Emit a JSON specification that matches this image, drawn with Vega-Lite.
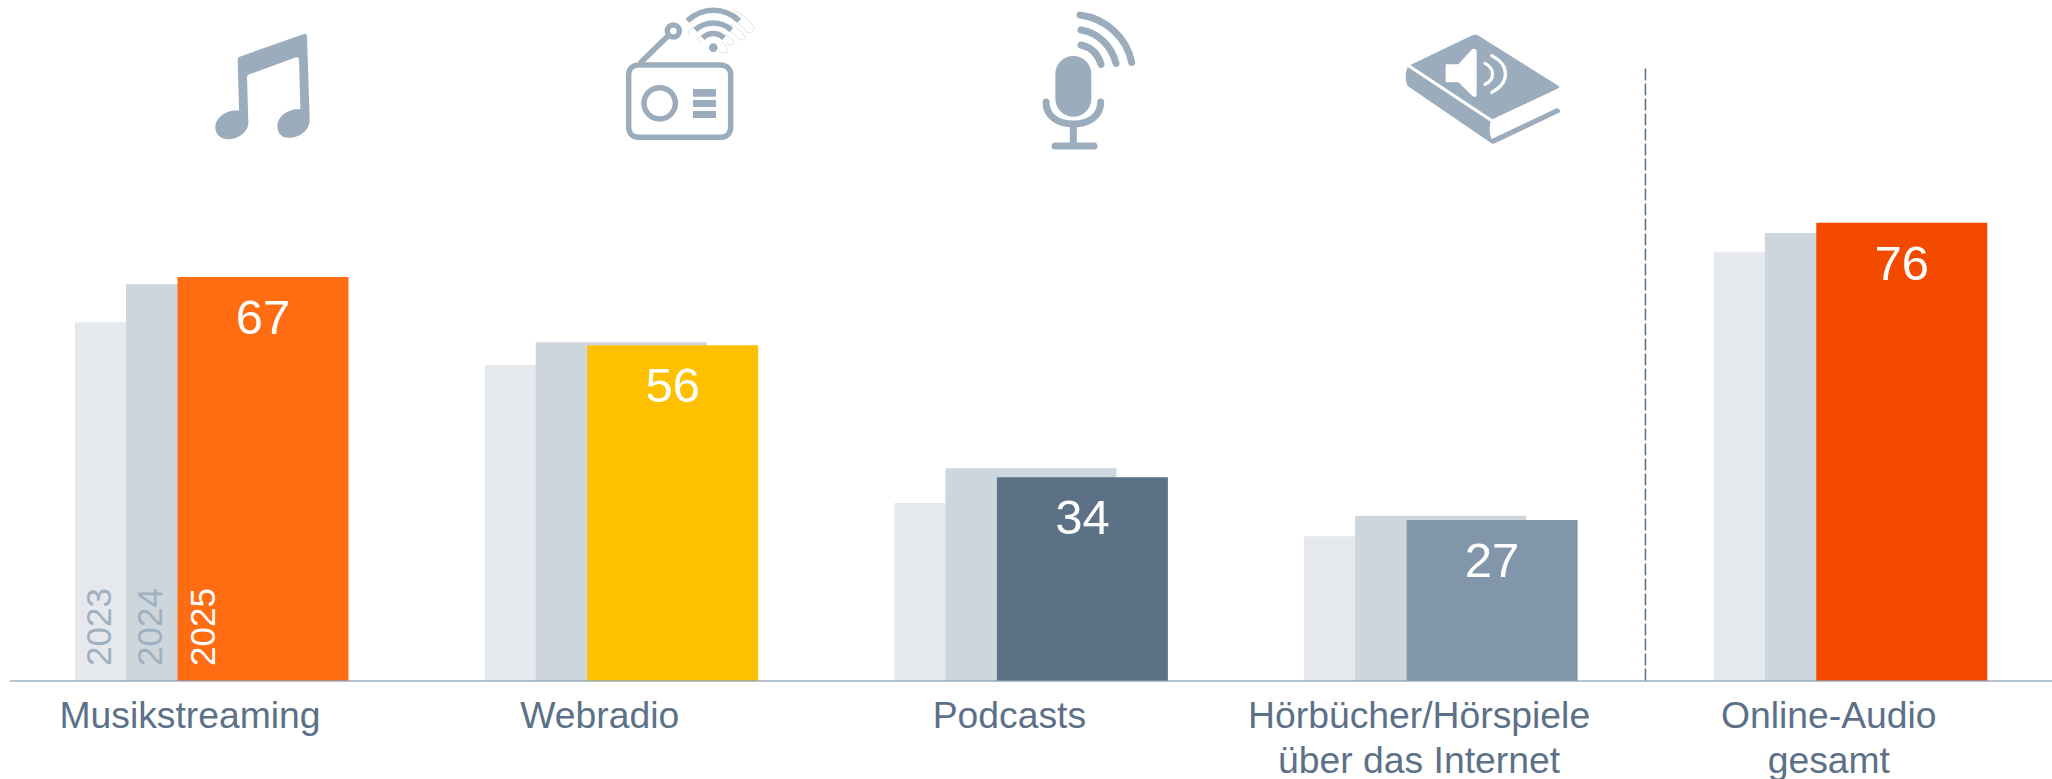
{
"$schema":"https://vega.github.io/schema/vega-lite/v6.json",
"autosize":"none","width":2042,"height":681,
"padding":{"left":10,"top":0,"right":0,"bottom":98},
"background":"white",
"config":{"view":{"stroke":null}},
"data":{"values":[
{"category":"Musikstreaming","year":2023,"value":59.5},
{"category":"Musikstreaming","year":2024,"value":65.8},
{"category":"Musikstreaming","year":2025,"value":67.0},
{"category":"Webradio","year":2023,"value":52.4},
{"category":"Webradio","year":2024,"value":56.2},
{"category":"Webradio","year":2025,"value":55.7},
{"category":"Podcasts","year":2023,"value":29.5},
{"category":"Podcasts","year":2024,"value":35.3},
{"category":"Podcasts","year":2025,"value":33.8},
{"category":"Hörbücher/Hörspiele über das Internet","year":2023,"value":24.0},
{"category":"Hörbücher/Hörspiele über das Internet","year":2024,"value":27.4},
{"category":"Hörbücher/Hörspiele über das Internet","year":2025,"value":26.7},
{"category":"Online-Audio gesamt","year":2023,"value":71.1},
{"category":"Online-Audio gesamt","year":2024,"value":74.3},
{"category":"Online-Audio gesamt","year":2025,"value":76.0}
]},
"encoding":{
"x":{"field":"category","type":"nominal","title":null,
"scale":{"domain":["Musikstreaming","Webradio","Podcasts","Hörbücher/Hörspiele über das Internet","Online-Audio gesamt"],"range":[-3.35,2045.15],"paddingInner":0,"paddingOuter":0},
"axis":{"domain":false,"ticks":false,"tickSize":0,"grid":false,"labelAngle":0,"labelOffset":-21.5,"labelPadding":46,"labelBaseline":"alphabetic","labelAlign":"center","labelFont":"Liberation Sans","labelFontSize":37.3,"labelColor":"#5c7188","labelLineHeight":45,"labelOverlap":false,"labelFlush":false,"labelBound":false,"labelLimit":0,
"labelExpr":"datum.value=='Hörbücher/Hörspiele über das Internet' ? ['Hörbücher/Hörspiele','über das Internet'] : datum.value=='Online-Audio gesamt' ? ['Online-Audio','gesamt'] : datum.value"}},
"y":{"field":"value","type":"quantitative","title":null,"axis":null,"scale":{"domain":[0,112.94],"nice":false,"zero":true}}
},
"layer":[
{"transform":[{"filter":"datum.year==2023"}],"mark":{"type":"bar","width":171,"xOffset":-51,"color":"#e5e9ee"}},
{"transform":[{"filter":"datum.year==2024"}],"mark":{"type":"bar","width":171,"color":"#cdd5dd"}},
{"transform":[{"filter":"datum.year==2025"}],"mark":{"type":"bar","width":171,"xOffset":51.5},
"encoding":{"color":{"field":"category","type":"nominal","legend":null,"scale":{"domain":["Musikstreaming","Webradio","Podcasts","Hörbücher/Hörspiele über das Internet","Online-Audio gesamt"],"range":["#ff6c11","#ffc000","#5c7186","#8196aa","#f34a00"]}}}},
{"transform":[{"filter":"datum.year==2025 && datum.category=='Musikstreaming'"}],"mark":{"type":"rule","stroke":"#8b9fb3","strokeWidth":1.5,"opacity":0.85},"encoding":{"x":null,"y":{"datum":0,"axis":null}}},
{"transform":[{"filter":"datum.year==2025 && datum.category=='Online-Audio gesamt'"}],"mark":{"type":"rule","stroke":"#5f7489","strokeWidth":1.6,"strokeDash":[12,3]},
"encoding":{"x":{"field":"category","type":"nominal","bandPosition":0},"y":{"datum":101.6,"axis":null},"y2":{"datum":0}}},
{"transform":[{"filter":"datum.year==2025"}],"mark":{"type":"text","color":"white","font":"Liberation Sans","fontSize":49,"baseline":"alphabetic","align":"center","dy":57,"xOffset":51.5},"encoding":{"text":{"field":"value","type":"quantitative","format":".0f"}}},
{"transform":[{"filter":"datum.category=='Musikstreaming' && datum.year==2023"}],"mark":{"type":"text","angle":270,"align":"left","baseline":"middle","font":"Liberation Sans","fontSize":35,"color":"#9fb0c1","xOffset":-111.5},"encoding":{"text":{"field":"year","type":"nominal"},"y":{"datum":2.5,"axis":null}}},
{"transform":[{"filter":"datum.category=='Musikstreaming' && datum.year==2024"}],"mark":{"type":"text","angle":270,"align":"left","baseline":"middle","font":"Liberation Sans","fontSize":35,"color":"#9fb0c1","xOffset":-60.5},"encoding":{"text":{"field":"year","type":"nominal"},"y":{"datum":2.5,"axis":null}}},
{"transform":[{"filter":"datum.category=='Musikstreaming' && datum.year==2025"}],"mark":{"type":"text","angle":270,"align":"left","baseline":"middle","font":"Liberation Sans","fontSize":35,"color":"white","xOffset":-8},"encoding":{"text":{"field":"year","type":"nominal"},"y":{"datum":2.5,"axis":null}}},

{"transform":[{"filter":"datum.year==2025 && datum.category=='Musikstreaming'"}],"mark":{"type":"point","filled":true,"opacity":1,"fill":"#9badbd","strokeWidth":0,"size":0.44444,"xOffset":-11.5,"yOffset":20,
"shape":"M113 118 Q113 112 119 110 L312 42 Q320 40 321 48 L329 295 C331 330 300 353 265 353 C245 353 232 340 232 318 C232 290 265 264 301 268 L297 118 Q296 110 288 112 L148 163 Q141 166 141 172 L145 305 C147 335 115 358 85 358 C60 358 46 342 46 322 C46 292 80 268 117 272 Z"},"encoding":{"y":{"datum":112.94,"axis":null}}},

{"transform":[{"filter":"datum.year==2025 && datum.category=='Webradio'"}],"mark":{"type":"point","filled":false,"opacity":1,"stroke":"#dfe4e9","strokeWidth":1,"size":0.44444,"xOffset":-6.2,"yOffset":0,
"shape":"M350 30 C385 40 405 62 418 85 C418 97 405 102 395 95 C380 75 365 65 350 58 M345 72 C365 82 380 95 392 110 C390 120 378 122 368 115 C358 102 345 95 335 90 M330 102 C345 110 352 120 358 128 C352 138 345 135 335 130 M318 125 C332 130 338 145 335 158 C330 160 320 158 312 155 M240 80 C225 85 215 95 225 105 M262 105 C245 112 245 125 262 128"},"encoding":{"y":{"datum":112.94,"axis":null}}},
{"transform":[{"filter":"datum.year==2025 && datum.category=='Webradio'"}],"mark":{"type":"point","filled":false,"opacity":1,"stroke":"#9badbd","strokeWidth":5.5,"size":0.44444,"xOffset":-6.2,"yOffset":0,
"shape":"M71 195 L317 195 C335 195 347 207 347 225 L347 382 C347 400 335 412 317 412 L71 412 C53 412 41 400 41 382 L41 225 C41 207 53 195 71 195 Z M87 310 C87 284 108 263 134 263 C160 263 181 284 181 310 C181 336 160 357 134 357 C108 357 87 336 87 310 Z M157 93 C157 83 165 75 175 75 C185 75 193 83 193 93 C193 103 185 111 175 111 C165 111 157 103 157 93 Z M75 190 L161 106 M217 62 C262 20 328 20 373 62 M241 90 C272 62 318 62 349 90 M263 114 C282 96 308 96 327 114"},"encoding":{"y":{"datum":112.94,"axis":null}}},
{"transform":[{"filter":"datum.year==2025 && datum.category=='Webradio'"}],"mark":{"type":"point","filled":true,"opacity":1,"fill":"#9badbd","strokeWidth":0,"size":0.44444,"xOffset":-6.2,"yOffset":0,
"shape":"M234 267 L303 267 L303 290 L234 290 Z M234 300 L303 300 L303 321 L234 321 Z M234 333 L303 333 L303 354 L234 354 Z M282 143 C282 136 288 130 295 130 C302 130 308 136 308 143 C308 150 302 156 295 156 C288 156 282 150 282 143 Z"},"encoding":{"y":{"datum":112.94,"axis":null}}},

{"transform":[{"filter":"datum.year==2025 && datum.category=='Podcasts'"}],"mark":{"type":"point","filled":true,"opacity":1,"fill":"#9badbd","strokeWidth":0,"size":0.44444,"xOffset":-0.9,"yOffset":0,
"shape":"M76 222 C76 192 100 168 130 168 C160 168 184 192 184 222 L184 296 C184 326 160 350 130 350 C100 350 76 326 76 296 Z"},"encoding":{"y":{"datum":112.94,"axis":null}}},
{"transform":[{"filter":"datum.year==2025 && datum.category=='Podcasts'"}],"mark":{"type":"point","filled":false,"opacity":1,"stroke":"#9badbd","strokeWidth":7,"strokeCap":"round","size":0.44444,"xOffset":-0.9,"yOffset":0,
"shape":"M48 306 C48 350 85 372 130 372 C175 372 212 350 212 306 M130 372 L130 436 M75 438 L192 438 M150 45 C225 55 290 110 305 187 M153 90 C205 97 245 140 258 190 M153 135 C185 142 205 165 213 193"},"encoding":{"y":{"datum":112.94,"axis":null}}},

{"transform":[{"filter":"datum.year==2025 && datum.category=='Hörbücher/Hörspiele über das Internet'"}],"mark":{"type":"point","filled":true,"opacity":1,"fill":"#9badbd","strokeWidth":0,"size":0.44444,"xOffset":-45.6,"yOffset":25,
"shape":"M46 120 L232 31 Q243 26 252 33 L490 182 Q496 187 490 190 L292 283 Z M38 126 L287 290 C282 310 284 330 290 342 L485 250 Q497 252 495 262 L300 355 Q293 358 287 353 L38 183 C30 165 30 145 38 126 Z"},"encoding":{"y":{"datum":112.94,"axis":null}}},
{"transform":[{"filter":"datum.year==2025 && datum.category=='Hörbücher/Hörspiele über das Internet'"}],"mark":{"type":"point","filled":true,"opacity":1,"fill":"white","strokeWidth":0,"size":0.44444,"xOffset":-45.6,"yOffset":25,
"shape":"M152 118 L190 118 L232 72 Q245 68 245 80 L245 208 Q245 220 232 213 L190 172 L152 172 Z"},"encoding":{"y":{"datum":112.94,"axis":null}}},
{"transform":[{"filter":"datum.year==2025 && datum.category=='Hörbücher/Hörspiele über das Internet'"}],"mark":{"type":"point","filled":false,"opacity":1,"stroke":"white","strokeWidth":3.2,"strokeCap":"round","size":0.44444,"xOffset":-45.6,"yOffset":25,
"shape":"M270 115 C300 130 300 165 270 178 M290 92 C345 120 345 175 290 202"},"encoding":{"y":{"datum":112.94,"axis":null}}}
]
}
